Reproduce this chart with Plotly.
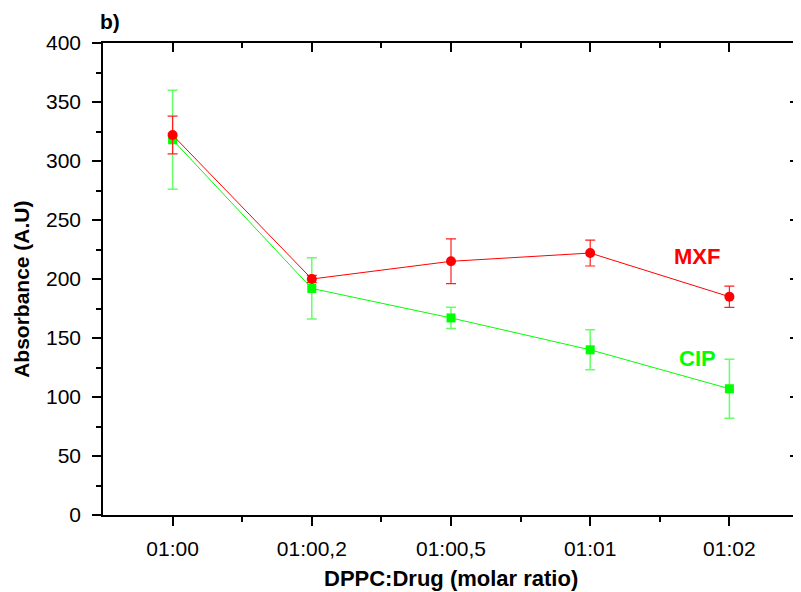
import plotly.graph_objects as go

categories = ["01:00", "01:00,2", "01:00,5", "01:01", "01:02"]
mxf = [322, 200, 215, 222, 185]
mxf_err = [16, 3, 19, 11, 9]
cip = [318, 192, 167, 140, 107]
cip_err = [42, 26, 9, 17, 25]
xpos = list(range(len(categories)))

fig = go.Figure()
fig.add_trace(go.Scatter(
    x=xpos, y=cip, mode="lines+markers",
    line=dict(color="#00ff00", width=1),
    marker=dict(symbol="square", size=9, color="#00ff00"),
    error_y=dict(type="data", array=cip_err, color="#66ff66", thickness=1.5, width=5),
    showlegend=False))
fig.add_trace(go.Scatter(
    x=xpos, y=mxf, mode="lines+markers",
    line=dict(color="#ff0000", width=1),
    marker=dict(symbol="circle", size=10, color="#ff0000"),
    error_y=dict(type="data", array=mxf_err, color="#ff2020", thickness=1.2, width=5),
    showlegend=False))

font = "Liberation Sans, Arial, sans-serif"
minor_x = [0.5, 1.5, 2.5, 3.5]
fig.update_layout(
    width=793, height=584,
    margin=dict(l=95, r=2, t=35, b=77),
    plot_bgcolor="white", paper_bgcolor="white",
    font=dict(family=font, size=21, color="black"),
    xaxis=dict(range=[-0.5, 4.5], tickmode="array", tickvals=xpos, ticktext=categories,
               automargin=False, ticklabelstandoff=5,
               showgrid=False, zeroline=False, showline=True, linecolor="black", linewidth=1.5,
               ticks="outside", ticklen=9, tickwidth=1.5, tickcolor="black",
               tickfont=dict(size=21),
               minor=dict(tickmode="array", tickvals=minor_x, ticks="outside",
                          ticklen=5, tickwidth=1.5, tickcolor="black")),
    yaxis=dict(range=[0, 400], tickmode="linear", tick0=0, dtick=50,
               automargin=False, ticklabelstandoff=7,
               showgrid=False, zeroline=False, showline=True, linecolor="black", linewidth=1.5,
               ticks="outside", ticklen=9, tickwidth=1.5, tickcolor="black",
               tickfont=dict(size=21),
               minor=dict(dtick=25, ticks="outside", ticklen=5, tickwidth=1.5, tickcolor="black")),
    xaxis2=dict(overlaying="x", side="top", range=[-0.5, 4.5], tickmode="array", tickvals=xpos,
                automargin=False,
                showticklabels=False, showgrid=False, zeroline=False, showline=True,
                linecolor="black", linewidth=1.5, ticks="inside", ticklen=9, tickwidth=1.5,
                tickcolor="black",
                minor=dict(tickmode="array", tickvals=minor_x, ticks="inside",
                           ticklen=5, tickwidth=1.5, tickcolor="black")),
    yaxis2=dict(overlaying="y", side="right", range=[0, 400], tickmode="linear", tick0=0, dtick=50,
                automargin=False,
                showticklabels=False, showgrid=False, zeroline=False, showline=True,
                linecolor="black", linewidth=1.5, ticks="inside", ticklen=9, tickwidth=1.5,
                tickcolor="black",
                minor=dict(dtick=25, ticks="inside", ticklen=5, tickwidth=1.5, tickcolor="black")),
)
# dummy trace to activate the mirror axes
fig.add_trace(go.Scatter(x=[None], y=[None], xaxis="x2", yaxis="y2", showlegend=False,
                         hoverinfo="skip"))

fig.add_annotation(x=3.77, y=219, text="<b>MXF</b>", showarrow=False,
                   font=dict(color="#ff0000", size=22, family=font))
fig.add_annotation(x=3.77, y=133, text="<b>CIP</b>", showarrow=False,
                   font=dict(color="#00ff00", size=22, family=font))
fig.add_annotation(xref="paper", yref="paper", x=0.0, y=1.0, yshift=22, xshift=7,
                   xanchor="center", yanchor="middle", text="<b>b)</b>", showarrow=False,
                   font=dict(size=21, family=font))
# axis titles
fig.add_annotation(xref="paper", yref="paper", x=0.5, y=0.0, yshift=-63,
                   xanchor="center", yanchor="middle", showarrow=False,
                   text="<b>DPPC:Drug (molar ratio)</b>", font=dict(size=22, family=font))
fig.add_annotation(xref="paper", yref="paper", x=0.0, y=0.477, xshift=-81,
                   xanchor="center", yanchor="middle", showarrow=False, textangle=-90,
                   text="<b>Absorbance (A.U)</b>", font=dict(size=21, family=font))

fig.write_html("out.html")
